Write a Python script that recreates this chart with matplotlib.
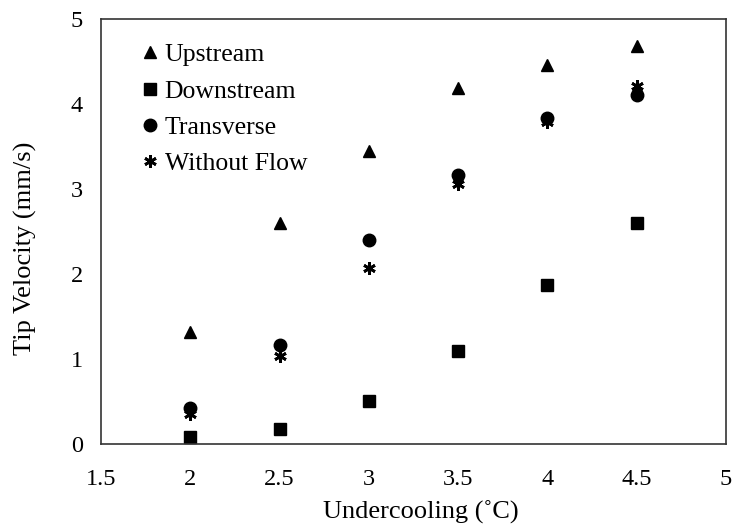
import matplotlib.pyplot as plt

plt.rcParams['font.family'] = ['Liberation Serif', 'DejaVu Serif']

undercooling = [2, 2.5, 3, 3.5, 4, 4.5]
upstream = [1.32, 2.60, 3.45, 4.19, 4.46, 4.68]
downstream = [0.08, 0.18, 0.51, 1.09, 1.87, 2.60]
transverse = [0.42, 1.17, 2.40, 3.16, 3.83, 4.10]
without_flow = [0.35, 1.03, 2.07, 3.06, 3.79, 4.21]

fig = plt.figure(figsize=(7.34, 5.30), dpi=100)
ax = fig.add_axes([0.1376, 0.1623, 0.8514, 0.8019])

ax.plot(undercooling, upstream, linestyle='none', marker='^', ms=9, color='black', label='Upstream')
ax.plot(undercooling, downstream, linestyle='none', marker='s', ms=9, color='black', label='Downstream')
ax.plot(undercooling, transverse, linestyle='none', marker='o', ms=9, color='black', label='Transverse')
ax.plot(undercooling, without_flow, linestyle='none', marker=(6, 2, 0), ms=9, mew=2,
        color='black', label='Without Flow')

ax.set_xlim(1.5, 5)
ax.set_ylim(0, 5)
ax.set_xticks([1.5, 2, 2.5, 3, 3.5, 4, 4.5, 5])
ax.set_xticklabels(['1.5', '2', '2.5', '3', '3.5', '4', '4.5', '5'])
ax.set_yticks([0, 1, 2, 3, 4, 5])
ax.tick_params(axis='x', length=0, labelsize=17.5, pad=18)
ax.tick_params(axis='y', length=0, labelsize=17.5, pad=13)
for s in ax.spines.values():
    s.set_linewidth(1.2)
    s.set_color('#333333')

ax.set_xlabel('Undercooling (\u02daC)', fontsize=19)
ax.set_ylabel('Tip Velocity (mm/s)', fontsize=19)
ax.xaxis.set_label_coords(0.512, -0.134)
ax.yaxis.set_label_coords(-0.103, 0.46)

ax.legend(loc='upper left', bbox_to_anchor=(0.04, 0.985), frameon=False, fontsize=18.5,
          handlelength=0.5, handletextpad=0.3, labelspacing=0.52, markerscale=1.0,
          borderpad=0.2)

plt.savefig('out.png', dpi=100)
